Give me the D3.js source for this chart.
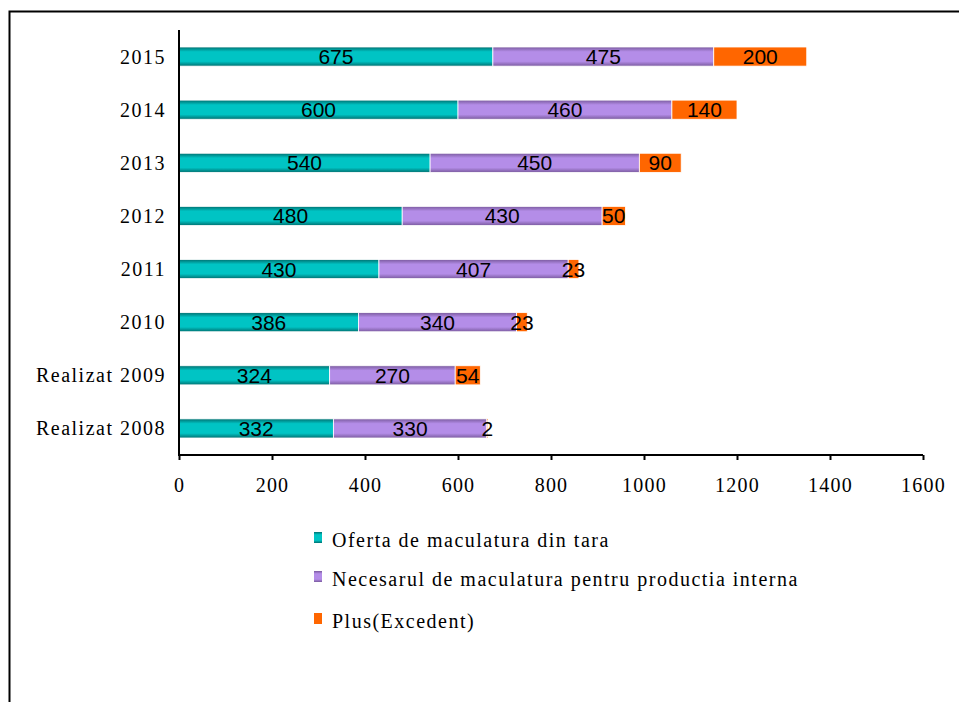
<!DOCTYPE html>
<html>
<head>
<meta charset="utf-8">
<script src="https://cdn.jsdelivr.net/npm/d3@7"></script>
<style>
body { margin: 0; background: #fff; }
.xaxis .tick text { font-family: "Liberation Serif", "Times New Roman", serif; font-size: 20px; letter-spacing: 1.2px; fill: #000; }
.yaxis .tick text { font-family: "Liberation Serif", "Times New Roman", serif; font-size: 20px; letter-spacing: 1.5px; fill: #000; }
.barlabel { font-family: "Liberation Sans", Arial, sans-serif; font-size: 21px; fill: #000; }
.legend text { font-family: "Liberation Serif", "Times New Roman", serif; font-size: 20px; letter-spacing: 1.5px; fill: #000; }
</style>
</head>
<body>
<div id="chart"></div>
<script>
const w = 959;
const h = 702;
const years = ["2015", "2014", "2013", "2012", "2011", "2010", "Realizat 2009", "Realizat 2008"];
const oferta = [675, 600, 540, 480, 430, 386, 324, 332];
const necesar = [475, 460, 450, 430, 407, 340, 270, 330];
const plus = [200, 140, 90, 50, 23, 23, 54, 2];
const seriesNames = ["Oferta de maculatura din tara", "Necesarul de maculatura pentru productia interna", "Plus(Excedent)"];
const xTicks = [0, 200, 400, 600, 800, 1000, 1200, 1400, 1600];

const marginLeft = 179;
const plotTop = 30;
const axisY = 455;
const plotRight = 923;

let svg = d3.select("#chart")
    .append("svg")
    .attr("width", w)
    .attr("height", h);

// outer frame (only left and top edges visible)
svg.append("rect")
    .attr("x", 9.5)
    .attr("y", 11.5)
    .attr("width", w + 20)
    .attr("height", h + 20)
    .attr("fill", "none")
    .attr("stroke", "#000")
    .attr("stroke-width", 2);

let defs = svg.append("defs");
function makeGrad(id, edge, mid) {
    let g = defs.append("linearGradient")
        .attr("id", id)
        .attr("x1", 0).attr("y1", 0).attr("x2", 0).attr("y2", 1);
    g.append("stop").attr("offset", "0%").attr("stop-color", edge);
    g.append("stop").attr("offset", "25%").attr("stop-color", mid);
    g.append("stop").attr("offset", "75%").attr("stop-color", mid);
    g.append("stop").attr("offset", "100%").attr("stop-color", edge);
}
makeGrad("gTeal", "#007070", "#00C4C4");
makeGrad("gPurple", "#7a5a9e", "#B48DE8");
makeGrad("gOrange", "#FF6600", "#FF6600");
const fills = ["url(#gTeal)", "url(#gPurple)", "url(#gOrange)"];
const legendFills = ["url(#gTeal)", "url(#gPurple)", "#FF6600"];

var x = d3.scaleLinear()
    .domain([0, 1600])
    .range([marginLeft, plotRight]);

var y = d3.scaleBand()
    .domain(years)
    .range([plotTop, axisY])
    .paddingInner(0.64)
    .paddingOuter(0.32);

let rows = years.map(function(yr, i) {
    return { year: yr, vals: [oferta[i], necesar[i], plus[i]] };
});

rows.forEach(function(r) {
    let start = 0;
    r.vals.forEach(function(v, k) {
        svg.append("rect")
            .attr("x", x(start))
            .attr("y", y(r.year))
            .attr("width", x(start + v) - x(start))
            .attr("height", y.bandwidth())
            .attr("fill", fills[k])
            .attr("stroke", "#fff")
            .attr("stroke-width", 0.8);
        svg.append("text")
            .attr("class", "barlabel")
            .attr("text-anchor", "middle")
            .attr("x", x(start + v / 2))
            .attr("y", y(r.year) + y.bandwidth() / 2 + 7.5)
            .text(v);
        start += v;
    });
});

// axes
svg.append("g")
    .attr("class", "xaxis")
    .attr("transform", "translate(0," + axisY + ")")
    .call(d3.axisBottom(x).tickValues(xTicks).tickSize(5).tickPadding(18).tickFormat(d3.format("d")))
    .call(g => g.select(".domain").attr("stroke", "#000").attr("stroke-width", 2).attr("d", "M" + marginLeft + ",0H" + plotRight))
    .call(g => g.selectAll(".tick line").attr("stroke", "#000").attr("stroke-width", 2));

svg.append("g")
    .attr("class", "yaxis")
    .attr("transform", "translate(" + marginLeft + ",0)")
    .call(d3.axisLeft(y).tickSize(0).tickPadding(13))
    .call(g => g.select(".domain").attr("stroke", "#000").attr("stroke-width", 2).attr("d", "M0," + plotTop + "V" + (axisY + 1)))
    .call(g => g.selectAll(".tick text").attr("dy", "0.35em"));

// legend
let legend = svg.append("g").attr("class", "legend");
const legendY = [547, 586, 628];
seriesNames.forEach(function(name, i) {
    legend.append("rect")
        .attr("x", 314)
        .attr("y", legendY[i] - 15)
        .attr("width", 8)
        .attr("height", 11)
        .attr("fill", legendFills[i]);
    legend.append("text")
        .attr("x", 332)
        .attr("y", legendY[i])
        .text(name);
});
</script>
</body>
</html>
